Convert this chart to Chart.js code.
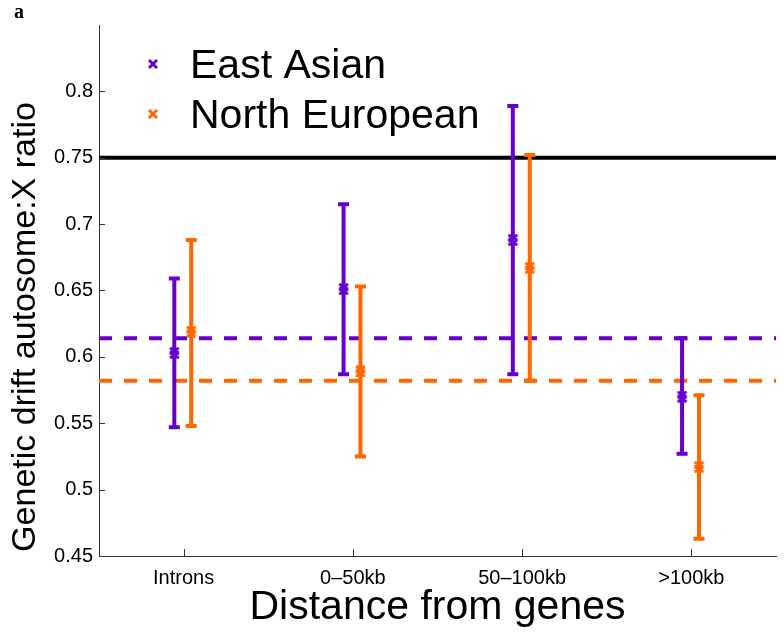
<!DOCTYPE html>
<html>
<head>
<meta charset="utf-8">
<script src="https://cdn.jsdelivr.net/npm/chart.js@4.4.1/dist/chart.umd.min.js"></script>
<style>
  html, body { margin: 0; padding: 0; background: #ffffff; }
  #wrap { width: 784px; height: 632px; position: relative; }
</style>
</head>
<body>
<div id="wrap"><canvas id="chart" width="784" height="632"></canvas></div>
<script>
// ---- data ----
const categories = ['Introns', '0\u201350kb', '50\u2013100kb', '>100kb'];
const seriesNames = ['East Asian', 'North European'];
const eastAsian      = [0.603, 0.651, 0.688, 0.570];
const eastAsianLow   = [0.547, 0.587, 0.587, 0.527];
const eastAsianHigh  = [0.659, 0.715, 0.789, 0.614];
const northEuropean      = [0.619, 0.589, 0.667, 0.517];
const northEuropeanLow   = [0.548, 0.525, 0.582, 0.463];
const northEuropeanHigh  = [0.688, 0.653, 0.752, 0.571];
const neutralRatio = 0.75;
const eastAsianMean = 0.614;
const northEuropeanMean = 0.582;
const yTicks = [0.45, 0.5, 0.55, 0.6, 0.65, 0.7, 0.75, 0.8];
const xAxisTitle = 'Distance from genes';
const yAxisTitle = 'Genetic drift autosome:X ratio';
const panelLabel = 'a';

// ---- styling / layout ----
const PURPLE = '#6600cc';
const ORANGE = '#ff6600';
const FONT = "'Liberation Sans', Arial, Helvetica, sans-serif";
const OFFSET_EA = -0.055;
const OFFSET_NE = 0.045;
const X_MIN = 0.5, X_MAX = 4.5, Y_MIN = 0.45, Y_MAX = 0.85;

const toPoints = (vals, off) => vals.map((v, i) => ({ x: i + 1 + off, y: v }));
const hLine = (v) => [{ x: X_MIN, y: v }, { x: X_MAX, y: v }];

// double-cross marker image
function makeMarker(color) {
  const c = document.createElement('canvas');
  c.width = 13; c.height = 12;
  const g = c.getContext('2d');
  g.strokeStyle = color;
  g.lineWidth = 3;
  g.beginPath();
  g.moveTo(2, 1); g.lineTo(11, 6);
  g.moveTo(11, 1); g.lineTo(2, 6);
  g.moveTo(2, 6); g.lineTo(11, 11);
  g.moveTo(11, 6); g.lineTo(2, 11);
  g.stroke();
  return c;
}

const errorBars = [
  { color: PURPLE, off: OFFSET_EA, lo: eastAsianLow, hi: eastAsianHigh },
  { color: ORANGE, off: OFFSET_NE, lo: northEuropeanLow, hi: northEuropeanHigh }
];

const errorBarPlugin = {
  id: 'errorBars',
  beforeDatasetDraw(chart, args) {
    if (args.index !== 1) return;
    const { ctx, scales: { x, y } } = chart;
    ctx.save();
    errorBars.forEach(s => {
      ctx.strokeStyle = s.color;
      ctx.lineWidth = 4;
      ctx.lineCap = 'butt';
      s.lo.forEach((lo, i) => {
        const px = x.getPixelForValue(i + 1 + s.off);
        const pLo = y.getPixelForValue(lo);
        const pHi = y.getPixelForValue(s.hi[i]);
        ctx.beginPath();
        ctx.moveTo(px, pLo); ctx.lineTo(px, pHi);
        ctx.moveTo(px - 5.5, pLo); ctx.lineTo(px + 5.5, pLo);
        ctx.moveTo(px - 5.5, pHi); ctx.lineTo(px + 5.5, pHi);
        ctx.stroke();
      });
    });
    ctx.restore();
  }
};

const decorPlugin = {
  id: 'decor',
  afterDraw(chart) {
    const { ctx, scales: { x, y }, chartArea } = chart;
    ctx.save();
    // inward tick marks
    ctx.strokeStyle = '#333333';
    ctx.lineWidth = 1;
    ctx.beginPath();
    yTicks.forEach(v => {
      const py = Math.round(y.getPixelForValue(v)) + 0.5;
      ctx.moveTo(chartArea.left, py); ctx.lineTo(chartArea.left + 6, py);
    });
    categories.forEach((c, i) => {
      const px = Math.round(x.getPixelForValue(i + 1)) + 0.5;
      ctx.moveTo(px, chartArea.bottom); ctx.lineTo(px, chartArea.bottom - 7);
    });
    ctx.stroke();

    // y axis title
    ctx.fillStyle = '#000';
    ctx.font = '34px ' + FONT;
    ctx.textAlign = 'center';
    ctx.textBaseline = 'alphabetic';
    ctx.translate(35, 327);
    ctx.rotate(-Math.PI / 2);
    ctx.fillText(yAxisTitle, 0, 0);
    ctx.setTransform(1, 0, 0, 1, 0, 0);

    // panel label
    ctx.font = "bold 20px 'Liberation Serif', 'Times New Roman', serif";
    ctx.textAlign = 'left';
    ctx.fillText(panelLabel, 14, 18);

    // legend
    const entries = [
      { label: seriesNames[0], color: PURPLE, y: 64 },
      { label: seriesNames[1], color: ORANGE, y: 114 }
    ];
    entries.forEach(e => {
      ctx.strokeStyle = e.color;
      ctx.lineWidth = 3;
      ctx.beginPath();
      ctx.moveTo(149, e.y - 4); ctx.lineTo(157, e.y + 4);
      ctx.moveTo(157, e.y - 4); ctx.lineTo(149, e.y + 4);
      ctx.stroke();
      ctx.fillStyle = '#000';
      ctx.font = '41px ' + FONT;
      ctx.textAlign = 'left';
      ctx.fillText(e.label, 190, e.y + 14);
    });
    ctx.restore();
  }
};

new Chart(document.getElementById('chart'), {
  type: 'scatter',
  data: {
    datasets: [
      {
        label: seriesNames[0],
        data: toPoints(eastAsian, OFFSET_EA),
        pointStyle: makeMarker(PURPLE), radius: 6,
        borderColor: PURPLE, backgroundColor: PURPLE, showLine: false
      },
      {
        label: seriesNames[1],
        data: toPoints(northEuropean, OFFSET_NE),
        pointStyle: makeMarker(ORANGE), radius: 6,
        borderColor: ORANGE, backgroundColor: ORANGE, showLine: false
      },
      {
        label: 'East Asian mean', type: 'line', data: hLine(eastAsianMean),
        borderColor: PURPLE, borderWidth: 4, borderDash: [13, 12], pointRadius: 0, fill: false
      },
      {
        label: 'North European mean', type: 'line', data: hLine(northEuropeanMean),
        borderColor: ORANGE, borderWidth: 4, borderDash: [13, 12], pointRadius: 0, fill: false
      },
      {
        label: 'Neutral expectation', type: 'line', data: hLine(neutralRatio),
        borderColor: '#000000', borderWidth: 4, pointRadius: 0, fill: false
      }
    ]
  },
  options: {
    responsive: false,
    animation: false,
    devicePixelRatio: 1,
    layout: { padding: { left: 0, right: 8, top: 25, bottom: 0 } },
    plugins: { legend: { display: false }, tooltip: { enabled: false } },
    scales: {
      x: {
        type: 'linear', min: X_MIN, max: X_MAX,
        afterBuildTicks: s => { s.ticks = categories.map((c, i) => ({ value: i + 1 })); },
        afterFit: s => { s.height = 76; },
        grid: { display: false, drawTicks: false },
        border: { display: true, color: '#333333', width: 1 },
        ticks: {
          color: '#000', padding: 10, maxRotation: 0, autoSkip: false,
          font: { family: FONT, size: 20 },
          callback: v => categories[Math.round(v) - 1]
        },
        title: {
          display: true, text: xAxisTitle, color: '#000',
          font: { family: FONT, size: 41 }, padding: { top: 0, bottom: 0 }
        }
      },
      y: {
        type: 'linear', min: Y_MIN, max: Y_MAX,
        afterBuildTicks: s => { s.ticks = yTicks.map(v => ({ value: v })); },
        afterFit: s => { s.width = 99; },
        grid: { display: false, drawTicks: false },
        border: { display: true, color: '#333333', width: 1 },
        ticks: {
          color: '#000', padding: 6,
          font: { family: FONT, size: 20 },
          callback: v => String(Number(v.toFixed(2)))
        }
      }
    }
  },
  plugins: [errorBarPlugin, decorPlugin]
});
</script>
</body>
</html>
